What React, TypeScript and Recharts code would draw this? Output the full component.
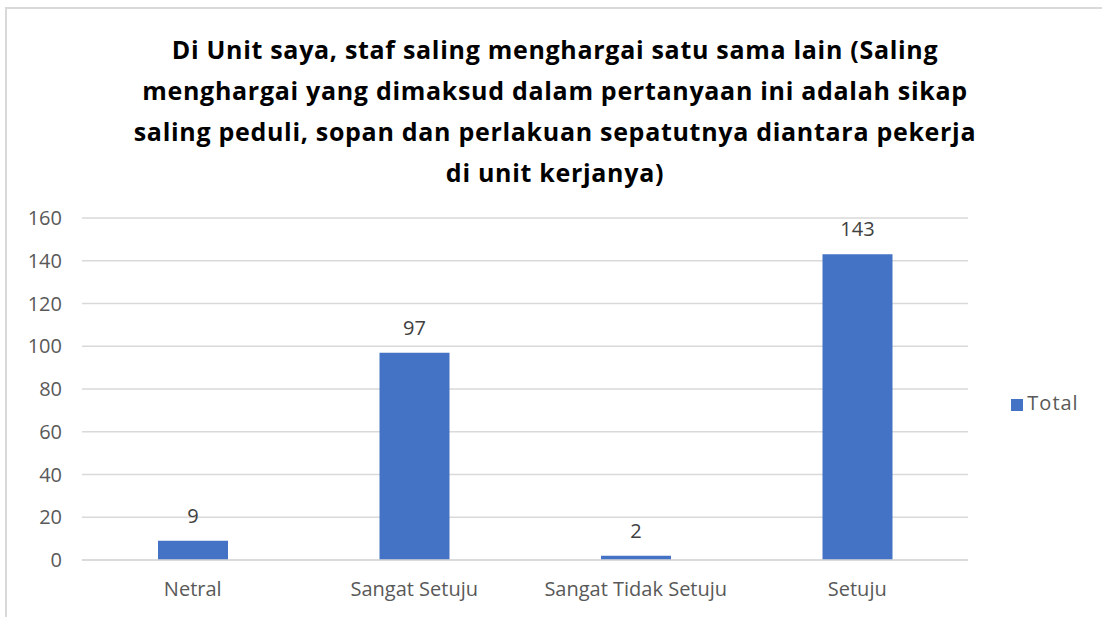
import { BarChart, Bar, XAxis, YAxis, CartesianGrid, Legend, LabelList } from 'recharts';

const categories = ['Netral', 'Sangat Setuju', 'Sangat Tidak Setuju', 'Setuju'];
const totals = [9, 97, 2, 143];
const yTicks = [0, 20, 40, 60, 80, 100, 120, 140, 160];
const titleLines = [
  'Di Unit saya, staf saling menghargai satu sama lain (Saling',
  'menghargai yang dimaksud dalam pertanyaan ini adalah sikap',
  'saling peduli, sopan dan perlakuan sepatutnya diantara pekerja',
  'di unit kerjanya)',
];

const data = categories.map((c, i) => ({ name: c, Total: totals[i] }));

const FONT = '"Open Sans", "Noto Sans", sans-serif';
const AXIS = '#595959';

export default function App() {
  return (
    <div
      style={{
        position: 'absolute',
        left: 0,
        top: 0,
        width: 1102,
        height: 617,
        overflow: 'hidden',
        background: '#fff',
        fontFamily: FONT,
      }}
    >
      <div
        style={{
          position: 'absolute',
          left: 5,
          top: 7,
          width: 1120,
          height: 640,
          border: '2px solid #d9d9d9',
          boxSizing: 'border-box',
        }}
      />
      <div
        style={{
          position: 'absolute',
          left: 0,
          top: 29,
          width: 1110,
          textAlign: 'center',
          fontWeight: 700,
          fontSize: 25,
          letterSpacing: 0.7,
          lineHeight: '41px',
          color: '#000',
        }}
      >
        {titleLines.map((l) => (
          <div key={l} style={{ whiteSpace: 'nowrap' }}>{l}</div>
        ))}
      </div>
      <div style={{ position: 'absolute', left: 0, top: 0 }}>
        <BarChart
          width={1102}
          height={617}
          data={data}
          margin={{ top: 218, right: 134, left: 0, bottom: 0 }}
        >
          <CartesianGrid stroke="#d9d9d9" strokeWidth={1.5} vertical={false} />
          <XAxis
            dataKey="name"
            height={57}
            axisLine={{ stroke: '#d9d9d9', strokeWidth: 1.5 }}
            tickLine={false}
            tickMargin={16}
            tick={{ fill: AXIS, fontSize: 20, fontFamily: FONT }}
          />
          <YAxis
            width={82}
            domain={[0, 160]}
            ticks={yTicks}
            axisLine={false}
            tickLine={false}
            tickSize={8}
            tickMargin={12}
            tick={{ fill: AXIS, fontSize: 20, fontFamily: FONT }}
          />
          <Legend
            layout="horizontal"
            align="center"
            verticalAlign="middle"
            iconType="square"
            iconSize={12}
            wrapperStyle={{ left: 998, top: 389, width: 104, fontSize: 20, letterSpacing: 1, fontFamily: FONT }}
            formatter={(v) => <span style={{ color: AXIS }}>{v}</span>}
          />
          <Bar dataKey="Total" fill="#4472c4" barSize={70} isAnimationActive={false}>
            <LabelList dataKey="Total" position="top" offset={18} fill="#404040" fontSize={20} fontFamily={FONT} />
          </Bar>
        </BarChart>
      </div>
    </div>
  );
}
